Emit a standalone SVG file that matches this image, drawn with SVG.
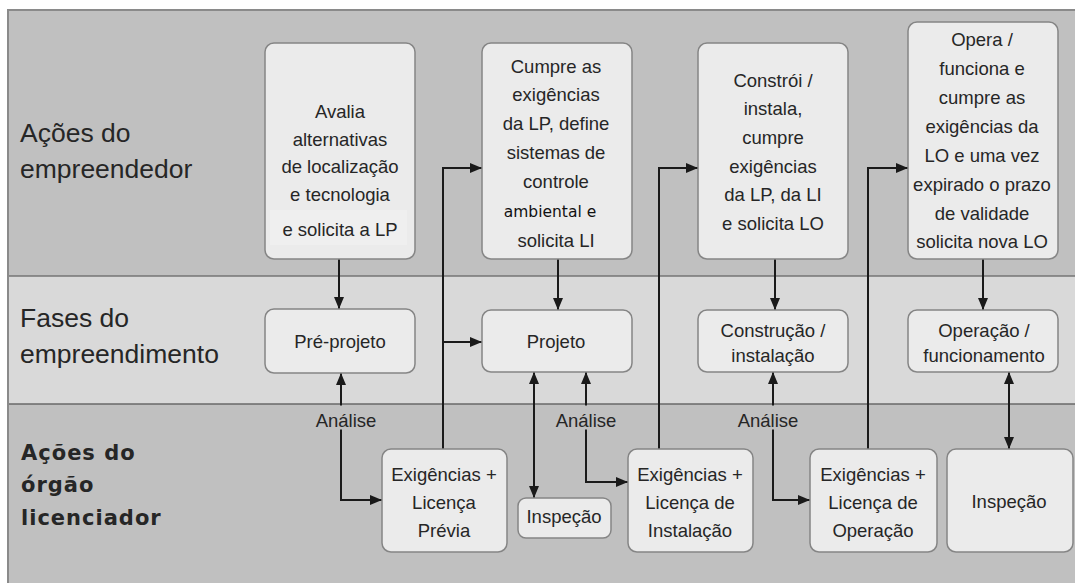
<svg xmlns="http://www.w3.org/2000/svg" width="1075" height="583" viewBox="0 0 1075 583">
<style>
.box{fill:#ebebeb;stroke:#858585;stroke-width:1.5}
.t{font-family:"Liberation Sans",Arial,sans-serif;font-size:18.5px;fill:#262626;text-anchor:middle}
.lane{font-family:"Liberation Sans",Arial,sans-serif;font-size:26.5px;fill:#262626}
.laneb{font-family:"DejaVu Sans",Verdana,sans-serif;font-size:21px;font-weight:bold;letter-spacing:1px;fill:#262626}
.amb{font-family:"DejaVu Sans",Verdana,sans-serif;font-size:15.5px;fill:#111;text-anchor:middle}
.c{fill:none;stroke:#1a1a1a;stroke-width:2}
.lbg{fill:#c0c0c0}
</style>
<defs>
<marker id="ah" markerUnits="userSpaceOnUse" markerWidth="14" markerHeight="12" refX="12" refY="5" orient="auto-start-reverse">
<path d="M0,0 L12,5 L0,10 z" fill="#1a1a1a"/>
</marker>
</defs>
<g id="lanes">
<rect x="8" y="10" width="1072" height="580" fill="#c0c0c0" stroke="#8a8a8a" stroke-width="2"/>
<rect x="9" y="276" width="1070" height="128" fill="#d9d9d9"/>
<line x1="9" y1="276" x2="1075" y2="276" stroke="#747474" stroke-width="1.5"/>
<line x1="9" y1="404" x2="1075" y2="404" stroke="#686868" stroke-width="1.5"/>
<text class="lane" x="20" y="142">Ações do</text>
<text class="lane" x="20" y="178">empreendedor</text>
<text class="lane" x="20" y="327">Fases do</text>
<text class="lane" x="20" y="363">empreendimento</text>
<text class="laneb" x="21" y="460">Ações do</text>
<text class="laneb" x="21" y="492">órgão</text>
<text class="laneb" x="21" y="525">licenciador</text>
</g>
<g id="connectors">
<path class="c" d="M339,259 V309" marker-end="url(#ah)"/>
<path class="c" d="M341,373 V500 H382" marker-start="url(#ah)" marker-end="url(#ah)"/>
<path class="c" d="M443,449 V168 H482" marker-end="url(#ah)"/>
<path class="c" d="M443,342 H482" marker-end="url(#ah)"/>
<path class="c" d="M558,259 V310" marker-end="url(#ah)"/>
<path class="c" d="M534,372 V498" marker-start="url(#ah)" marker-end="url(#ah)"/>
<path class="c" d="M586,372 V482 H628" marker-start="url(#ah)" marker-end="url(#ah)"/>
<path class="c" d="M659,449 V168 H698" marker-end="url(#ah)"/>
<path class="c" d="M775,259 V310" marker-end="url(#ah)"/>
<path class="c" d="M773,372 V500 H810" marker-start="url(#ah)" marker-end="url(#ah)"/>
<path class="c" d="M868,449 V168 H908" marker-end="url(#ah)"/>
<path class="c" d="M983,259 V310" marker-end="url(#ah)"/>
<path class="c" d="M1009,372 V449" marker-start="url(#ah)" marker-end="url(#ah)"/>
<rect class="lbg" x="314" y="405.5" width="64" height="24"/>
<rect class="lbg" x="554" y="405.5" width="64" height="24"/>
<rect class="lbg" x="736" y="405.5" width="64" height="24"/>
<text class="t" x="346" y="427">Análise</text>
<text class="t" x="586" y="427">Análise</text>
<text class="t" x="768" y="427">Análise</text>
</g>
<g id="avalia">
<rect class="box" x="265" y="43" width="150" height="216" rx="9"/>
<rect x="270" y="210" width="137" height="35" fill="#efefef"/>
<text class="t" x="340" y="118">Avalia</text>
<text class="t" x="340" y="146">alternativas</text>
<text class="t" x="340" y="173">de localização</text>
<text class="t" x="340" y="201">e tecnologia</text>
<text class="t" x="340" y="236">e solicita a LP</text>
</g>
<g id="cumpre">
<rect class="box" x="482" y="43" width="150" height="216" rx="9"/>
<text class="t" x="556" y="73">Cumpre as</text>
<text class="t" x="556" y="101">exigências</text>
<text class="t" x="556" y="130">da LP, define</text>
<text class="t" x="556" y="159">sistemas de</text>
<text class="t" x="556" y="188">controle</text>
<text class="amb" x="550" y="217">ambiental e</text>
<text class="t" x="556" y="247">solicita LI</text>
</g>
<g id="constroi">
<rect class="box" x="698" y="43" width="150" height="216" rx="9"/>
<text class="t" x="773" y="87">Constrói /</text>
<text class="t" x="773" y="115">instala,</text>
<text class="t" x="773" y="144">cumpre</text>
<text class="t" x="773" y="173">exigências</text>
<text class="t" x="773" y="201">da LP, da LI</text>
<text class="t" x="773" y="230">e solicita LO</text>
</g>
<g id="opera">
<rect class="box" x="908" y="22" width="150" height="237" rx="9"/>
<text class="t" x="982" y="46">Opera /</text>
<text class="t" x="982" y="75">funciona e</text>
<text class="t" x="982" y="104">cumpre as</text>
<text class="t" x="982" y="133">exigências da</text>
<text class="t" x="982" y="162">LO e uma vez</text>
<text class="t" x="982" y="191">expirado o prazo</text>
<text class="t" x="982" y="220">de validade</text>
<text class="t" x="982" y="248">solicita nova LO</text>
</g>
<g id="preprojeto">
<rect class="box" x="265" y="309" width="150" height="64" rx="9"/>
<text class="t" x="340" y="348">Pré-projeto</text>
</g>
<g id="projeto">
<rect class="box" x="482" y="310" width="150" height="62" rx="9"/>
<text class="t" x="556" y="348">Projeto</text>
</g>
<g id="construcao">
<rect class="box" x="698" y="310" width="150" height="62" rx="9"/>
<text class="t" x="773" y="337">Construção /</text>
<text class="t" x="773" y="362">instalação</text>
</g>
<g id="operacao">
<rect class="box" x="908" y="310" width="150" height="62" rx="9"/>
<text class="t" x="984" y="337">Operação /</text>
<text class="t" x="984" y="362">funcionamento</text>
</g>
<g id="exig-lp">
<rect class="box" x="382" y="449" width="125" height="103" rx="9"/>
<text class="t" x="444" y="481">Exigências +</text>
<text class="t" x="444" y="509">Licença</text>
<text class="t" x="444" y="537">Prévia</text>
</g>
<g id="inspecao-1">
<rect class="box" x="518" y="498" width="93" height="40" rx="8"/>
<text class="t" x="564" y="523">Inspeção</text>
</g>
<g id="exig-li">
<rect class="box" x="628" y="449" width="125" height="103" rx="9"/>
<text class="t" x="690" y="481">Exigências +</text>
<text class="t" x="690" y="509">Licença de</text>
<text class="t" x="690" y="537">Instalação</text>
</g>
<g id="exig-lo">
<rect class="box" x="810" y="449" width="127" height="103" rx="9"/>
<text class="t" x="873" y="481">Exigências +</text>
<text class="t" x="873" y="509">Licença de</text>
<text class="t" x="873" y="537">Operação</text>
</g>
<g id="inspecao-2">
<rect class="box" x="947" y="449" width="126" height="103" rx="9"/>
<text class="t" x="1009" y="508">Inspeção</text>
</g>
</svg>
